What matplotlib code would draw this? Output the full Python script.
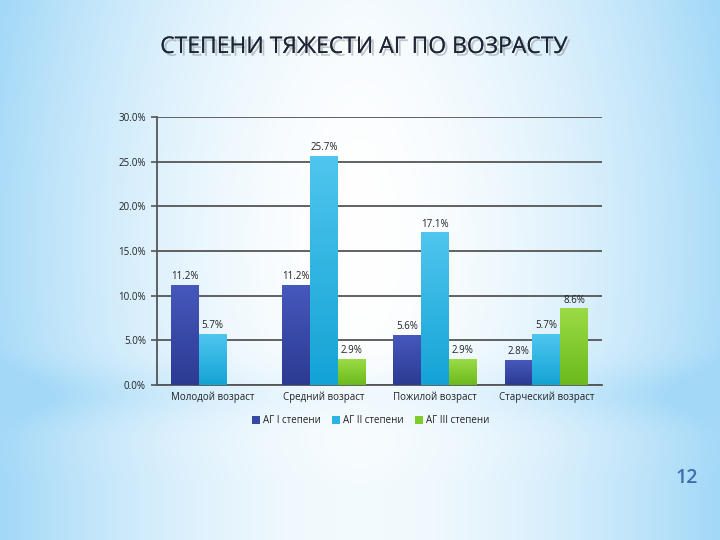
import numpy as np
import matplotlib.pyplot as plt
import matplotlib.patheffects as pe
from matplotlib.colors import to_rgb

# данные с графика
categories = ["Молодой возраст", "Средний возраст", "Пожилой возраст", "Старческий возраст"]
series_names = ["АГ I степени", "АГ II степени", "АГ III степени"]
ag1 = [11.2, 11.2, 5.6, 2.8]
ag2 = [5.7, 25.7, 17.1, 5.7]
ag3 = [None, 2.9, 2.9, 8.6]
colors = ["#3548A8", "#2BB3E3", "#7FCB2C"]
# верх/низ градиента столбцов
grad_top = ["#4658BC", "#4FC6EE", "#9BDB45"]
grad_bot = ["#2C3A92", "#14A3D6", "#6BBA1C"]

plt.rcParams['font.family'] = ['Open Sans', 'DejaVu Sans']

fig = plt.figure(figsize=(7.2, 5.4), dpi=100)

# фон слайда: голубые края слева и справа, белая середина
bg = fig.add_axes([0, 0, 1, 1], zorder=-10)
yy, xx = np.mgrid[0:1:270j, 0:1:360j]
tx = np.clip(np.abs(xx - 0.5) / 0.5, 0, 1) ** 1.7
band = 0.3 * np.exp(-((yy - 0.27) / 0.05) ** 2) * (0.4 + 0.6 * tx)
ty = 0.12 * np.clip(np.abs(yy - 0.55) / 0.45, 0, 1) ** 2
t = np.clip(tx * 0.9 + band + ty, 0, 1)
edge = np.array([0.64, 0.85, 0.97])
center = np.array([1.0, 1.0, 1.0])
img = center[None, None, :] * (1 - t[..., None]) + edge[None, None, :] * t[..., None]
bg.imshow(img, extent=[0, 1, 0, 1], aspect='auto', origin='lower')
bg.axis('off')

ax = fig.add_axes([0.218, 0.287, 0.618, 0.496])
ax.patch.set_alpha(0)

x = np.arange(len(categories))
w = 0.25
all_series = [ag1, ag2, ag3]
for i, (vals, name, c) in enumerate(zip(all_series, series_names, colors)):
    xs = [xi + (i - 1) * w for xi, v in zip(x, vals) if v is not None]
    vs = [v for v in vals if v is not None]
    bars = ax.bar(xs, vs, width=w, color=c, label=name, zorder=3)
    top = np.array(to_rgb(grad_top[i]))
    bot = np.array(to_rgb(grad_bot[i]))
    g = np.linspace(0, 1, 64)[:, None, None]
    grad = bot * (1 - g) + top * g
    for b, v in zip(bars, vs):
        x0 = b.get_x()
        im = ax.imshow(grad, extent=[x0, x0 + b.get_width(), 0, v], origin='lower',
                       aspect='auto', zorder=3.5)
        im.set_clip_path(b)
        ax.text(x0 + b.get_width() / 2, v + 0.3, f"{v:.1f}%",
                ha='center', va='bottom', fontsize=7, color='#222222', zorder=4)

ax.set_xlim(-0.5, len(categories) - 0.5)
ax.set_ylim(0, 30)
ax.set_yticks(np.arange(0, 31, 5))
ax.set_yticklabels([f"{v:.1f}%" for v in np.arange(0, 31, 5)], fontsize=7, color='#222222')
ax.set_xticks(x)
ax.set_xticklabels(categories, fontsize=7, color='#222222')
ax.tick_params(axis='x', length=0, pad=5)
ax.tick_params(axis='y', length=4, width=1.2, color='#555555', pad=4)
ax.yaxis.grid(True, color='#555555', linewidth=1.3, zorder=0)
ax.set_axisbelow(True)
for s in ['top', 'right']:
    ax.spines[s].set_visible(False)
for s in ['left', 'bottom']:
    ax.spines[s].set_color('#555555')
    ax.spines[s].set_linewidth(1.3)

leg = ax.legend(loc='upper center', bbox_to_anchor=(0.48, -0.08), ncol=3, frameon=False,
                fontsize=7, handlelength=0.8, handleheight=0.8, handletextpad=0.3,
                columnspacing=1.2)
for txt in leg.get_texts():
    txt.set_color('#222222')

fig.text(0.505, 0.913, "СТЕПЕНИ ТЯЖЕСТИ АГ ПО ВОЗРАСТУ", ha='center', va='center',
         fontsize=16.5, color='#1E2636',
         path_effects=[pe.withSimplePatchShadow(offset=(2, -2), shadow_rgbFace='#666666', alpha=0.35),
                       pe.Normal()])

fig.text(0.953, 0.115, "12", ha='center', va='center', fontsize=14,
         color='#3D6FAE', fontweight='semibold')

plt.savefig('out.png', dpi=100)
